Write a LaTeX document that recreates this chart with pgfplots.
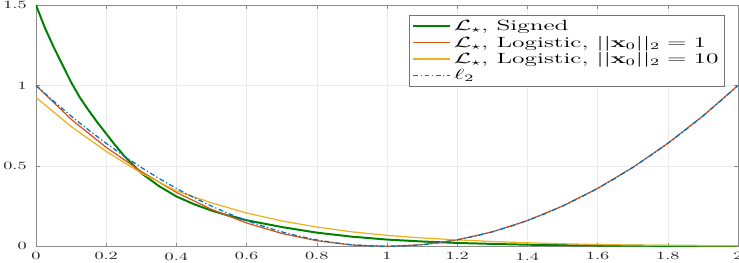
\documentclass[border=0pt]{standalone}
\usepackage{pgfplots}
\pgfplotsset{compat=1.18}
\usepackage{amsmath,graphicx}
\definecolor{mblue}{rgb}{0,0.447,0.741}
\definecolor{mred}{rgb}{0.85,0.325,0.098}
\definecolor{myellow}{rgb}{0.929,0.694,0.125}
\definecolor{mgreen}{rgb}{0,0.5,0}
\newcommand{\tkl}[1]{\scalebox{1.6}[1]{#1}}
\newcommand{\lgt}[1]{\scalebox{1.72}[1]{#1}}
\begin{document}
\begin{tikzpicture}
\begin{axis}[
  scale only axis,
  width=570pt, height=196pt,
  xmin=0, xmax=2, ymin=0, ymax=1.5,
  xtick={0,0.2,0.4,0.6,0.8,1,1.2,1.4,1.6,1.8,2}, ytick={0,0.5,1,1.5},
  xticklabels={\tkl{0},\tkl{0.2},\tkl{0.4},\tkl{0.6},\tkl{0.8},\tkl{1},\tkl{1.2},\tkl{1.4},\tkl{1.6},\tkl{1.8},\tkl{2}},
  yticklabels={\tkl{0},\tkl{0.5},\tkl{1},\tkl{1.5}},
  grid=major,
  major grid style={draw=black!8},
  axis line style={draw=black!45},
  tick style={draw=black!45},
  tick align=inside,
  major tick length=3pt,
  tick label style={font=\small, color=black!85},
  xticklabel style={yshift=-1.5pt},
  yticklabel style={xshift=-4pt},
  legend cell align=left,
  legend style={at={(1,1)}, anchor=north east, xshift=-10.6pt, yshift=-8.1pt,
    draw=black!55, font=\large, row sep=-1pt},
  legend image code/.code={\draw[#1] (0pt,0pt) -- (30pt,0pt);},
]
\addplot[mgreen, line width=1.6pt] coordinates {
(0,1.50) (0.025,1.36) (0.05,1.24) (0.075,1.13) (0.1,1.02) (0.125,0.925) (0.15,0.845) (0.175,0.77) (0.2,0.70)
(0.225,0.63) (0.25,0.565) (0.3,0.455) (0.35,0.375) (0.4,0.31) (0.45,0.262) (0.5,0.222) (0.55,0.19)
(0.6,0.162) (0.7,0.12) (0.8,0.085) (0.9,0.06) (1.0,0.042) (1.1,0.03) (1.2,0.021) (1.3,0.015)
(1.4,0.01) (1.5,0.007) (1.6,0.005) (1.7,0.004) (1.8,0.003) (1.9,0.002) (2.0,0.002)};
\addlegendentry{\lgt{$\mathcal{L}_\star$, Signed}}
\addplot[mred, line width=1pt] coordinates {
(0,1.0) (0.1,0.79) (0.2,0.615) (0.3,0.465) (0.4,0.335) (0.5,0.23) (0.6,0.145) (0.7,0.08)
(0.8,0.035) (0.9,0.008) (1.0,0.0) (1.1,0.01) (1.2,0.04) (1.3,0.09) (1.4,0.16) (1.5,0.25)
(1.6,0.36) (1.7,0.49) (1.8,0.64) (1.9,0.81) (2.0,1.0)};
\addlegendentry{\lgt{$\mathcal{L}_\star$, Logistic, $||\mathbf{x}_0||_2 = 1$}}
\addplot[myellow, line width=1pt] coordinates {
(0,0.925) (0.1,0.745) (0.2,0.59) (0.3,0.455) (0.4,0.345) (0.5,0.27) (0.6,0.207) (0.7,0.158)
(0.8,0.12) (0.9,0.09) (1.0,0.068) (1.1,0.052) (1.2,0.04) (1.3,0.03) (1.4,0.022) (1.5,0.016)
(1.6,0.011) (1.7,0.008) (1.8,0.006) (1.9,0.004) (2.0,0.003)};
\addlegendentry{\lgt{$\mathcal{L}_\star$, Logistic, $||\mathbf{x}_0||_2 = 10$}\hspace{20pt}}
\addplot[mblue, line width=1pt, dash pattern=on 4pt off 2pt on 1pt off 2pt] coordinates {
(0,1) (0.05,0.9025) (0.1,0.81) (0.15,0.7225) (0.2,0.64) (0.25,0.5625) (0.3,0.49) (0.35,0.4225)
(0.4,0.36) (0.45,0.3025) (0.5,0.25) (0.55,0.2025) (0.6,0.16) (0.65,0.1225) (0.7,0.09)
(0.75,0.0625) (0.8,0.04) (0.85,0.0225) (0.9,0.01) (0.95,0.0025) (1,0) (1.05,0.0025) (1.1,0.01)
(1.15,0.0225) (1.2,0.04) (1.25,0.0625) (1.3,0.09) (1.35,0.1225) (1.4,0.16) (1.45,0.2025)
(1.5,0.25) (1.55,0.3025) (1.6,0.36) (1.65,0.4225) (1.7,0.49) (1.75,0.5625) (1.8,0.64)
(1.85,0.7225) (1.9,0.81) (1.95,0.9025) (2,1)};
\addlegendentry{\lgt{$\ell_2$}}
\end{axis}
\pgfresetboundingbox
\path ([xshift=-29.2pt,yshift=-13pt]current axis.south west) rectangle ([xshift=0.8pt,yshift=4pt]current axis.north east);
\end{tikzpicture}
\end{document}
